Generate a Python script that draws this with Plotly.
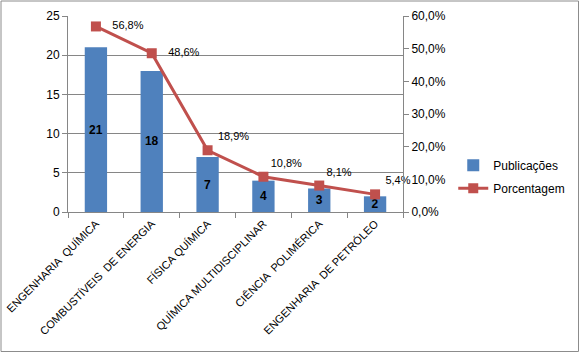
import plotly.graph_objects as go

categories = ["ENGENHARIA  QUÍMICA", "COMBUSTÍVEIS  DE ENERGIA", "FÍSICA QUÍMICA",
              "QUÍMICA MULTIDISCIPLINAR", "CIÊNCIA  POLIMÉRICA", "ENGENHARIA  DE PETRÓLEO"]
publicacoes = [21, 18, 7, 4, 3, 2]
porcentagem = [0.568, 0.486, 0.189, 0.108, 0.081, 0.054]
pct_positions = ["middle right", "middle right", "top right", "top right", "top right", "top right"]

W, H = 580, 354
L, R, T, B = 68, 177, 16, 142
FONT = "Liberation Sans"

fig = go.Figure()
fig.add_trace(go.Bar(
    x=categories, y=publicacoes, name="Publicações", legendgroup="a",
    marker=dict(color="#4F81BD", line=dict(width=0)),
    width=0.4,
    text=publicacoes, textposition="inside", insidetextanchor="middle",
    textfont=dict(family=FONT, size=12, color="black", weight="bold"),
    textangle=0,
))
fig.add_trace(go.Scatter(
    x=categories, y=porcentagem, name="Porcentagem", yaxis="y2", legendgroup="b",
    mode="lines+markers+text",
    line=dict(color="#C0504D", width=3),
    marker=dict(symbol="square", size=10, color="#C0504D"),
    text=[f"{v*100:.1f}%".replace(".", ",") for v in porcentagem],
    texttemplate=["   %{text}", "   %{text}", " %{text}", "%{text}", "%{text}", " %{text}"],
    textposition=pct_positions,
    textfont=dict(family=FONT, size=11, color="black"),
    cliponaxis=False,
))

pw = W - L - R
ph = H - T - B
fig.add_shape(type="rect", xref="paper", yref="paper",
              x0=-(L - 1) / pw, x1=1 + (R - 1.5) / pw,
              y0=-(B - 2.5) / ph, y1=1 + (T - 1) / ph,
              line=dict(color="#8C8C8C", width=1), layer="below")

fig.update_layout(
    width=W, height=H,
    margin=dict(l=L, r=R, t=T, b=B, autoexpand=False),
    paper_bgcolor="white", plot_bgcolor="white",
    separators=",.",
    font=dict(family=FONT, size=12, color="black"),
    showlegend=True,
    uniformtext=dict(minsize=12, mode="show"),
    legend=dict(x=1.15, y=0.18, xanchor="left", yanchor="middle",
                font=dict(family=FONT, size=12, color="black"),
                tracegroupgap=4, itemwidth=30, bgcolor="rgba(0,0,0,0)"),
    xaxis=dict(type="category", tickangle=-45, tickson="boundaries",
               ticks="outside", ticklen=5, tickcolor="#868686",
               showline=True, linecolor="#868686", linewidth=1,
               tickfont=dict(family=FONT, size=11, color="black"),
               showgrid=False, range=[-0.5, 5.5]),
    yaxis=dict(range=[0, 25], dtick=5, ticks="outside", ticklen=5,
               tickcolor="#868686", showline=True, linecolor="#868686",
               showgrid=True, gridcolor="#868686", gridwidth=1,
               zeroline=False, tickfont=dict(family=FONT, size=12, color="black")),
    yaxis2=dict(range=[0, 0.6], dtick=0.1, tickformat=".1%", overlaying="y",
                side="right", ticks="outside", ticklen=5, tickcolor="#868686",
                showline=True, linecolor="#868686", showgrid=False, zeroline=False,
                tickfont=dict(family=FONT, size=12, color="black")),
    bargap=0.6,
)

fig.write_html("out.html", post_script="document.body.style.margin='0';",
               config={"displayModeBar": False})
